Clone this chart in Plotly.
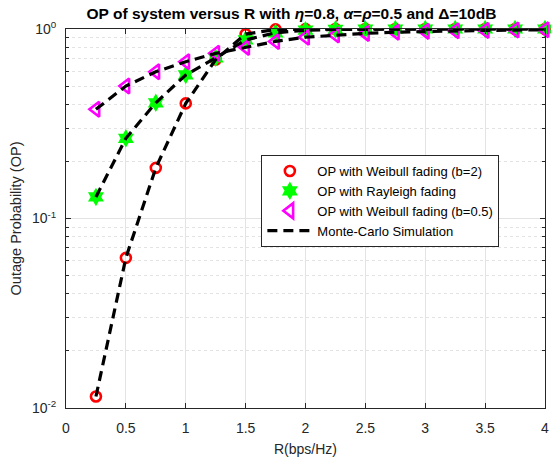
import plotly.graph_objects as go

# ---- data ----
rate = [0.25, 0.5, 0.75, 1.0, 1.25, 1.5, 1.75, 2.0, 2.25, 2.5, 2.75, 3.0, 3.25, 3.5, 3.75, 4.0]
op_weibull_b2 = [0.0115, 0.062, 0.185, 0.405, 0.69, 0.94, 0.995, 0.999, 1.0, 1.0, 1.0, 1.0, 1.0, 1.0, 1.0, 1.0]
op_rayleigh = [0.130, 0.265, 0.408, 0.572, 0.705, 0.875, 0.955, 0.985, 0.995, 0.998, 1.0, 1.0, 1.0, 1.0, 1.0, 1.0]
op_weibull_b05 = [0.377, 0.50, 0.595, 0.672, 0.744, 0.80, 0.86, 0.905, 0.93, 0.948, 0.962, 0.972, 0.978, 0.983, 0.987, 0.99]

x_ticks = [0, 0.5, 1, 1.5, 2, 2.5, 3, 3.5, 4]
x_tick_text = ["0", "0.5", "1", "1.5", "2", "2.5", "3", "3.5", "4"]
y_ticks = [0.01, 0.1, 1]
y_tick_text = ["10<sup>-2</sup>", "10<sup>-1</sup>", "10<sup>0</sup>"]
y_minor = [0.02, 0.03, 0.04, 0.05, 0.06, 0.07, 0.08, 0.09,
           0.2, 0.3, 0.4, 0.5, 0.6, 0.7, 0.8, 0.9]

names = ["OP with Weibull fading (b=2)", "OP with Rayleigh fading",
         "OP with Weibull fading (b=0.5)", "Monte-Carlo Simulation"]

FONT = "Liberation Sans, Arial, Helvetica, sans-serif"
AX = "#262626"
GRID = "#e3e3e3"

fig = go.Figure()

fig.add_trace(go.Scatter(
    x=rate, y=op_weibull_b2, mode="markers", name=names[0], cliponaxis=False,
    marker=dict(symbol="circle-open", size=10, color="#ff0000", line=dict(width=2.6, color="#ff0000"))))
fig.add_trace(go.Scatter(
    x=rate, y=op_rayleigh, mode="markers", name=names[1], cliponaxis=False,
    marker=dict(symbol="hexagram", size=14, color="#00ff00", line=dict(width=0))))
fig.add_trace(go.Scatter(
    x=rate, y=op_weibull_b05, mode="markers", name=names[2], cliponaxis=False,
    marker=dict(symbol="triangle-left-open", size=13, color="#ff00ff", line=dict(width=2.6, color="#ff00ff"))))

for i, ys in enumerate([op_weibull_b2, op_rayleigh, op_weibull_b05]):
    fig.add_trace(go.Scatter(
        x=rate, y=ys, mode="lines", name=names[3], legendgroup="mc",
        showlegend=(i == 0), cliponaxis=False,
        line=dict(color="#000000", width=3.2, dash="10px,6px")))

fig.update_layout(
    width=551, height=457,
    paper_bgcolor="white", plot_bgcolor="white",
    margin=dict(l=66, r=2, t=29, b=49),
    font=dict(family=FONT, size=14, color=AX),
    hovermode=False,
    title=dict(
        text="<b>OP of system versus R with <i>η</i>=0.8, <i>α</i>=<i>ρ</i>=0.5 and Δ=10dB</b>",
        x=0.529, xref="container", xanchor="center",
        y=1 - 14 / 457, yref="container", yanchor="middle",
        font=dict(family=FONT, size=15.5, color="#000000")),
    showlegend=True,
    legend=dict(
        x=(263 - 66) / 483, y=(408 - 155) / 379, xanchor="left", yanchor="top",
        bgcolor="white", bordercolor=AX, borderwidth=1,
        font=dict(family=FONT, size=13, color="#000000"),
        tracegroupgap=0, itemwidth=45),
)

fig.update_xaxes(
    range=[0, 4], tickvals=x_ticks, ticktext=x_tick_text,
    showline=True, linecolor=AX, linewidth=1, mirror="ticks",
    ticks="inside", ticklen=5, tickcolor=AX,
    showgrid=True, gridcolor=GRID, gridwidth=1, zeroline=False,
    ticklabelstandoff=7, ticklabeloverflow="allow",
    tickfont=dict(family=FONT, size=14, color=AX),
    title=dict(text="R(bps/Hz)", font=dict(family=FONT, size=14, color=AX), standoff=9),
)
fig.update_yaxes(
    type="log", range=[-2, 0], tickvals=y_ticks, ticktext=y_tick_text,
    showline=True, linecolor=AX, linewidth=1, mirror="ticks",
    ticks="inside", ticklen=5, tickcolor=AX,
    showgrid=True, gridcolor=GRID, gridwidth=1, zeroline=False,
    ticklabeloverflow="allow", ticklabelstandoff=6,
    tickfont=dict(family=FONT, size=14, color=AX),
    minor=dict(tickvals=y_minor, ticks="inside", ticklen=3, tickcolor=AX,
               showgrid=True, gridcolor=GRID, griddash="dot", gridwidth=1),
    title=dict(text="Outage Probability (OP)", font=dict(family=FONT, size=14.5, color=AX), standoff=6),
)

fig.write_html("out.html", config={"displayModeBar": False},
               post_script="document.body.style.margin='0';document.body.style.overflow='hidden';")
